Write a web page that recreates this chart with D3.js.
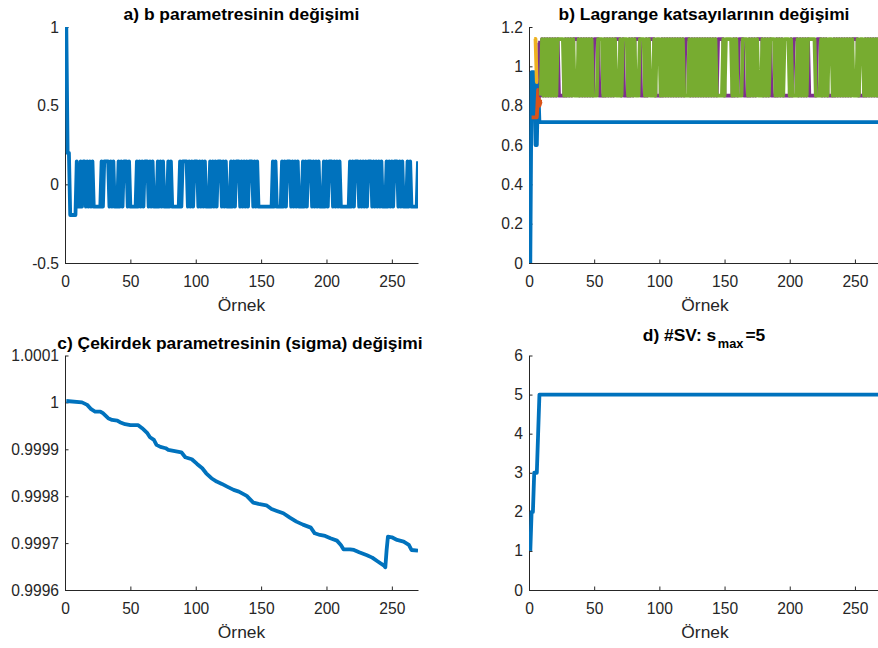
<!DOCTYPE html>
<html><head><meta charset="utf-8">
<script src="https://cdn.jsdelivr.net/npm/d3@7"></script>
<style>
html,body{margin:0;padding:0;background:#fff;}
svg{display:block;}
</style></head><body>
<svg id="chart" width="878" height="648"></svg>
<script>
// ---------------- DATA ----------------
const xTickValues = [0, 50, 100, 150, 200, 250];
const xTickLabels = ["0", "50", "100", "150", "200", "250"];
const xLabel = "Örnek";

// a) b parameter (samples 1..270)
const aH = 0.146, aL = -0.142;
const bValues = [
 1, 0.2, 0.2, -0.195, -0.195, -0.195, -0.195, -0.195, aH, aL,
 aL, aH, aL, aH, aH, aL, aH, aL, aH, aL,
 aH, aL, aL, aL, aL, aL, aL, aH, aL, aH,
 aH, aH, aH, aL, aH, aL, aH, aL, aL, aL,
 aH, aL, aH, aL, aH, aH, aH, aL, aH, aL,
 aL, aL, aL, aL, aH, aL, aH, aL, aH, aL,
 aH, aH, aH, aL, aH, aL, aH, aL, aL, aL,
 aH, aL, aH, aL, aH, aL, aL, aL, aH, aL,
 aH, aL, aL, aL, aL, aL, aL, aH, aL, aH,
 aH, aH, aH, aL, aH, aL, aH, aL, aH, aH,
 aH, aL, aH, aL, aH, aL, aH, aL, aL, aL,
 aH, aL, aH, aL, aH, aL, aH, aH, aH, aL,
 aH, aL, aH, aL, aL, aL, aH, aL, aH, aL,
 aH, aH, aH, aL, aH, aL, aH, aL, aH, aL,
 aH, aH, aH, aL, aH, aL, aH, aL, aL, aL,
 aL, aL, aL, aL, aL, aL, aL, aL, aH, aL,
 aH, aL, aL, aL, aL, aH, aL, aH, aL, aH,
 aH, aH, aL, aH, aL, aH, aL, aH, aL, aL,
 aL, aH, aL, aH, aL, aH, aH, aH, aL, aH,
 aL, aH, aL, aH, aL, aL, aL, aH, aL, aH,
 aL, aH, aH, aH, aL, aH, aL, aH, aL, aH,
 aL, aL, aL, aL, aL, aL, aL, aH, aL, aH,
 aL, aH, aH, aH, aL, aH, aL, aH, aL, aH,
 aL, aH, aH, aH, aL, aH, aL, aH, aL, aH,
 aL, aH, aL, aL, aL, aH, aL, aH, aL, aH,
 aL, aH, aH, aH, aL, aH, aL, aH, aL, aL,
 aL, aH, aL, aH, aL, aL, aL, aL, aL, aH
];
const aYTicks = [-0.5, 0, 0.5, 1];
const aYLabels = ["-0.5", "0", "0.5", "1"];

// b) Lagrange multipliers
const gH = 1.138, gL = 0.851;
const lagBlueX = [1, 2, 3, 4, 5, 6, 7, 8, 270];
const lagBlueY = [0, 0.97, 0.97, 0.97, 0.6, 0.6, 0.92, 0.716, 0.716];
const lagOrangeStart = 2;
const lagOrange = [0.74, 0.74, 0.74, 0.74, 0.74, 0.88, 0.8, 0.82, 0.82];
const lagYellowStart = 4;
const lagYellow = [1.14, 1.14, 0.92, 1.02, 0.98, 1.0];
const lagPurpleStart = 7;
const lagPurple = [
 1.12, 1.12,
 gL,gH,gL,gH,gL,gH,gL,gH,gL,gH,
 gL,gH,gL,gH,gL,gL,gL,gL,gL,gH,
 gL,gH,gL,gH,gL,gH,gH,gH,gH,gH,
 gL,gH,gL,gH,gL,gH,gL,gH,gL,gH,
 gL,gH,gH,gH,gH,gL,gL,gL,gL,gH,
 gL,gH,gL,gH,gL,gH,gL,gH,gH,gH,
 gH,gH,gL,gH,gL,gL,gL,gL,gH,gL,
 gH,gL,gH,gH,gH,gH,gH,gL,gL,gL,
 gL,gH,gL,gH,gH,gH,gH,gH,gL,gL,
 gL,gL,gL,gH,gL,gH,gL,gH,gL,gH,
 gL,gH,gL,gH,gL,gH,gL,gH,gL,gH,
 gL,gH,gH,gH,gH,gL,gH,gL,gH,gL,
 gH,gL,gH,gL,gH,gL,gH,gL,gH,gL,
 gH,gL,gH,gL,gH,gL,gH,gH,gH,gH,
 gH,gL,gL,gL,gL,gL,gL,gL,gH,gL,
 gH,gL,gH,gH,gH,gH,gL,gL,gL,gL,
 gH,gL,gH,gL,gH,gL,gH,gH,gH,gH,
 gH,gL,gH,gL,gH,gL,gH,gL,gL,gL,
 gL,gH,gL,gH,gL,gH,gL,gL,gL,gL,
 gL,gL,gH,gL,gH,gH,gH,gH,gL,gH,
 gL,gH,gL,gH,gL,gH,gL,gL,gL,gL,
 gL,gL,gH,gH,gH,gH,gL,gH,gL,gH,
 gL,gL,gL,gL,gL,gH,gL,gH,gL,gH,
 gL,gH,gL,gH,gL,gH,gL,gH,gL,gH,
 gH,gH,gH,gH,gL,gL,gL,gL,gL,gH,
 gL,gH,gL,gH,gL,gH,gL,gH,gL,gH,
 gL,gH
];
const lagGreenStart = 9;
const lagGreen = [
 gL,gH,gL,gH,gL,gH,gL,gH,gL,gH,
 gL,gH,gL,gH,gH,gH,gH,gH,gL,gH,
 gL,gH,gL,gH,gL,gH,gL,gL,gL,gH,
 gL,gH,gL,gH,gL,gH,gL,gH,gL,gH,
 gL,gL,gL,gL,gH,gH,gH,gH,gL,gH,
 gL,gH,gL,gH,gL,gH,gL,gH,gL,gL,
 gL,gH,gL,gH,gH,gH,gH,gL,gH,gL,
 gH,gL,gH,gL,gL,gL,gH,gH,gH,gH,
 gL,gH,gL,gH,gL,gL,gL,gH,gL,gH,
 gH,gH,gL,gH,gL,gH,gL,gH,gL,gH,
 gL,gH,gL,gH,gL,gH,gL,gH,gL,gH,
 gL,gL,gL,gL,gH,gL,gH,gL,gH,gL,
 gH,gL,gH,gL,gH,gL,gH,gL,gH,gL,
 gH,gL,gH,gL,gH,gL,gL,gL,gL,gL,
 gH,gL,gH,gH,gH,gH,gH,gL,gH,gL,
 gH,gL,gL,gL,gL,gH,gH,gH,gH,gL,
 gH,gL,gH,gL,gH,gL,gH,gL,gL,gL,
 gH,gL,gH,gL,gH,gL,gH,gH,gH,gH,
 gL,gH,gL,gH,gL,gH,gL,gH,gH,gH,
 gH,gL,gH,gL,gL,gL,gL,gH,gL,gH,
 gL,gH,gL,gH,gL,gH,gH,gH,gH,gH,
 gH,gL,gL,gL,gL,gH,gL,gH,gL,gH,
 gL,gH,gH,gH,gL,gH,gL,gH,gL,gH,
 gL,gH,gL,gH,gL,gH,gL,gH,gL,gH,
 gL,gL,gL,gH,gL,gH,gH,gH,gL,gH,
 gL,gH,gL,gH,gL,gH,gL,gH,gL,gH,
 gL,gH
];
const bYTicks = [0, 0.2, 0.4, 0.6, 0.8, 1, 1.2];
const bYLabels = ["0", "0.2", "0.4", "0.6", "0.8", "1", "1.2"];

// c) kernel parameter sigma
const sigmaX = [1,13,17,20,23,27,29,33,36,40,42,46,50,56,59,63,65,68,70,73,77,79,83,89,92,97,101,105,108,112,116,120,124,129,133,139,144,148,154,158,162,167,172,177,182,188,191,195,199,203,208,211,213,218,221,225,231,235,239,244,245,246,247,250,254,259,263,265,270];
const sigmaY = [1.000003,1.0000,0.9999947,0.9999855,0.9999805,0.9999805,0.999977,0.9999663,0.9999627,0.9999613,
 0.9999578,0.9999535,0.9999514,0.9999514,0.9999449,0.9999343,0.9999257,0.99992,0.9999094,0.9999051,
 0.9999023,0.9998987,0.9998966,0.9998937,0.9998831,0.9998788,0.9998688,0.9998596,0.9998489,0.9998383,
 0.9998311,0.9998262,0.9998205,0.9998134,0.9998098,0.9998006,0.9997863,0.9997835,0.9997807,0.9997728,
 0.9997686,0.9997636,0.9997543,0.9997458,0.9997394,0.999733,0.9997209,0.9997174,0.9997152,0.9997102,
 0.9997053,0.999696,0.9996868,0.9996868,0.9996853,0.9996804,0.999674,0.999669,0.9996612,0.9996519,
 0.9996484,0.9996853,0.9997138,0.9997124,0.9997067,0.9997031,0.999696,0.9996853,0.9996839];
const cYTicks = [0.9996, 0.9997, 0.9998, 0.9999, 1, 1.0001];
const cYLabels = ["0.9996", "0.9997", "0.9998", "0.9999", "1", "1.0001"];

// d) number of support vectors
const svX = [1, 2, 3, 4, 5, 6, 7, 8, 270];
const svY = [1, 2, 2, 3, 3, 3, 4, 5, 5];
const dYTicks = [0, 1, 2, 3, 4, 5, 6];
const dYLabels = ["0", "1", "2", "3", "4", "5", "6"];

const colors = ["#0072BD", "#D95319", "#EDB120", "#7E2F8E", "#77AC30"];

// ---------------- DRAWING ----------------
const FONT = '"Liberation Sans", Arial, Helvetica, sans-serif';
const AXC = "#262626";
const TICK_FS = 15.6, LABEL_FS = 17.4;
const svg = d3.select("#chart").style("font-family", FONT);
const defs = svg.append("defs");

function panel(o) {
  const x = d3.scaleLinear().domain([0, 270]).range([o.left, o.right]);
  const y = d3.scaleLinear().domain(o.yDomain).range([o.bottom, o.top]);
  const g = svg.append("g");

  const xa = d3.axisBottom(x).tickValues(xTickValues)
    .tickFormat((d, i) => xTickLabels[i]).tickSizeInner(-3.5).tickSizeOuter(0).tickPadding(13);
  const gx = g.append("g").attr("transform", `translate(0,${o.bottom})`).call(xa);
  const ya = d3.axisLeft(y).tickValues(o.yTicks)
    .tickFormat((d, i) => o.yLabels[i]).tickSizeInner(-3.5).tickSizeOuter(0).tickPadding(6);
  const gy = g.append("g").attr("transform", `translate(${o.left},0)`).call(ya);
  [gx, gy].forEach(a => {
    a.attr("font-family", FONT).attr("font-size", TICK_FS);
    a.selectAll("path,line").attr("stroke", AXC).attr("stroke-width", 1);
    a.selectAll("text").attr("fill", AXC);
  });

  g.append("text").attr("x", (o.left + o.right) / 2).attr("y", o.bottom + 48)
    .attr("text-anchor", "middle").attr("font-size", LABEL_FS).attr("fill", AXC).text(xLabel);

  const id = "clip" + o.id;
  defs.append("clipPath").attr("id", id).append("rect")
    .attr("x", o.left).attr("y", o.top).attr("width", o.right - o.left).attr("height", o.bottom - o.top);
  const plot = g.append("g").attr("clip-path", `url(#${id})`);
  return { x, y, g, plot };
}

function drawLine(p, xs, ys, color, w) {
  const pts = ys.map((v, i) => [xs[i], v]);
  p.plot.append("path").datum(pts)
    .attr("fill", "none").attr("stroke", color).attr("stroke-width", w || 3.8)
    .attr("stroke-linejoin", "round").attr("stroke-linecap", "butt")
    .attr("d", d3.line().x(d => p.x(d[0])).y(d => p.y(d[1])));
}
function seqX(start, n) { return Array.from({ length: n }, (_, i) => start + i); }

function title(p, cx, yb, txt) {
  p.g.append("text").attr("x", cx).attr("y", yb).attr("text-anchor", "middle")
    .attr("font-size", LABEL_FS).attr("font-weight", "bold").attr("fill", "#000").text(txt);
}

// Panel a
const pa = panel({ id: "a", left: 65, right: 418, top: 27, bottom: 263, yDomain: [-0.5, 1], yTicks: aYTicks, yLabels: aYLabels });
drawLine(pa, seqX(1, bValues.length), bValues, colors[0]);
title(pa, 241.5, 19.5, "a) b parametresinin değişimi");

// Panel b
const pb = panel({ id: "b", left: 529, right: 881, top: 27, bottom: 263, yDomain: [0, 1.2], yTicks: bYTicks, yLabels: bYLabels });
drawLine(pb, lagBlueX, lagBlueY, colors[0]);
drawLine(pb, seqX(lagOrangeStart, lagOrange.length), lagOrange, colors[1]);
drawLine(pb, seqX(lagYellowStart, lagYellow.length), lagYellow, colors[2]);
drawLine(pb, seqX(lagPurpleStart, lagPurple.length), lagPurple, colors[3]);
drawLine(pb, seqX(lagGreenStart, lagGreen.length), lagGreen, colors[4]);
title(pb, 704, 19.5, "b) Lagrange katsayılarının değişimi");

// Panel c
const pc = panel({ id: "c", left: 65, right: 418, top: 355.5, bottom: 590, yDomain: [0.9996, 1.0001], yTicks: cYTicks, yLabels: cYLabels });
drawLine(pc, sigmaX, sigmaY, colors[0]);
title(pc, 240, 348.5, "c) Çekirdek parametresinin (sigma) değişimi");

// Panel d
const pd = panel({ id: "d", left: 529, right: 881, top: 355.5, bottom: 590, yDomain: [0, 6], yTicks: dYTicks, yLabels: dYLabels });
drawLine(pd, svX, svY, colors[0]);
const dt = pd.g.append("text").attr("x", 704).attr("y", 341).attr("text-anchor", "middle")
  .attr("font-size", LABEL_FS).attr("font-weight", "bold").attr("fill", "#000");
dt.append("tspan").text("d) #SV: s");
dt.append("tspan").attr("dy", 7.3).attr("font-size", 12.8).attr("dx", 1.5).text("max");
dt.append("tspan").attr("dy", -7.3).attr("dx", 2).text("=5");
</script>
</body></html>
